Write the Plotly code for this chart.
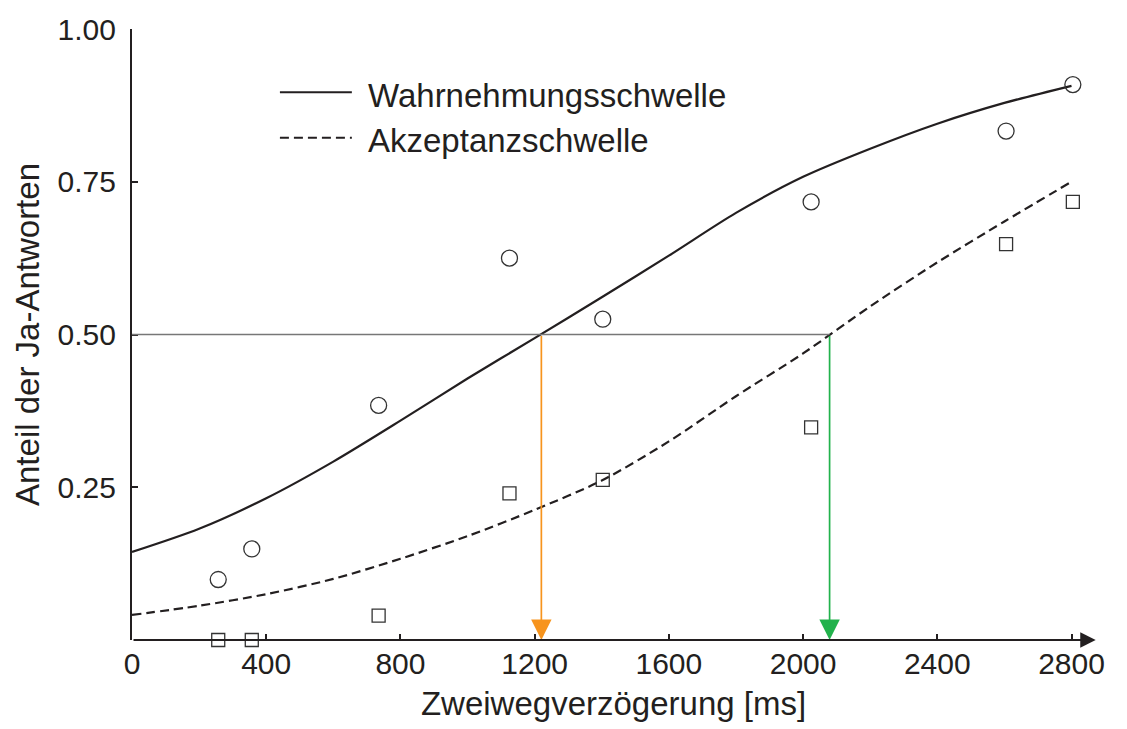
import plotly.graph_objects as go

# Measured points (ms, proportion of "yes" answers)
delay_ms = [257, 357, 735, 1125, 1403, 2024, 2605, 2804]
perception_pts = [0.099, 0.149, 0.384, 0.625, 0.525, 0.717, 0.833, 0.909]
acceptance_pts = [0.0, 0.0, 0.040, 0.240, 0.262, 0.348, 0.648, 0.717]

# Fitted curves
curve_x = [0, 200, 400, 600, 800, 1000, 1200, 1400, 1600, 1800, 2000, 2200, 2400, 2600, 2800]
perception_curve = [0.144, 0.182, 0.232, 0.292, 0.359, 0.428, 0.494, 0.561, 0.629, 0.699,
                    0.758, 0.804, 0.845, 0.879, 0.907]
acceptance_curve = [0.041, 0.056, 0.075, 0.100, 0.133, 0.170, 0.213, 0.261, 0.325, 0.399,
                    0.469, 0.546, 0.618, 0.685, 0.750]

threshold_level = 0.5
perception_threshold = 1220
acceptance_threshold = 2079

x_ticks = [0, 400, 800, 1200, 1600, 2000, 2400, 2800]
y_ticks = [0.25, 0.50, 0.75, 1.00]
y_tick_labels = ["0.25", "0.50", "0.75", "1.00"]

INK = "#231F20"
FONT = "Liberation Sans, Arial, Helvetica, sans-serif"

fig = go.Figure()

fig.add_trace(go.Scatter(x=curve_x, y=perception_curve, mode="lines", line_shape="spline",
                         line=dict(color=INK, width=2.2, smoothing=0.8), name="Wahrnehmungsschwelle",
                         showlegend=False))
fig.add_trace(go.Scatter(x=curve_x, y=acceptance_curve, mode="lines", line_shape="spline",
                         line=dict(color=INK, width=2.2, dash="9px,5px", smoothing=0.8),
                         name="Akzeptanzschwelle", showlegend=False))
fig.add_trace(go.Scatter(x=delay_ms, y=perception_pts, mode="markers", cliponaxis=False,
                         marker=dict(symbol="circle-open", size=16, color="#333333",
                                     line=dict(width=1.3)), showlegend=False))
fig.add_trace(go.Scatter(x=delay_ms, y=acceptance_pts, mode="markers", cliponaxis=False,
                         marker=dict(symbol="square-open", size=13, color="#333333",
                                     line=dict(width=1.3)), showlegend=False))

# horizontal 0.5 line
fig.add_shape(type="line", xref="x", yref="y", x0=0, x1=acceptance_threshold,
              y0=threshold_level, y1=threshold_level, line=dict(color="#777777", width=1.5))

# arrows down to the x axis
for xv, col in [(perception_threshold, "#F7941D"), (acceptance_threshold, "#22B24C")]:
    fig.add_annotation(x=xv, y=0, ax=xv, ay=threshold_level, xref="x", yref="y",
                       axref="x", ayref="y", showarrow=True, arrowhead=2, arrowsize=2.4,
                       arrowwidth=1.7, arrowcolor=col, text="")

# x axis line with arrow
fig.add_annotation(x=2872, y=0, ax=0, ay=0, xref="x", yref="y", axref="x", ayref="y",
                   showarrow=True, arrowhead=2, arrowsize=1.4, arrowwidth=2.2,
                   arrowcolor=INK, text="")

# manual legend
fig.add_shape(type="line", xref="paper", yref="paper", x0=0.1536, x1=0.2283,
              y0=0.8963, y1=0.8963, line=dict(color=INK, width=2))
fig.add_shape(type="line", xref="paper", yref="paper", x0=0.1536, x1=0.2283,
              y0=0.8222, y1=0.8222, line=dict(color=INK, width=2, dash="9px,5px"))
fig.add_annotation(xref="paper", yref="paper", x=0.2429, y=0.8914, xanchor="left",
                   yanchor="middle", text="Wahrnehmungsschwelle", showarrow=False,
                   font=dict(size=33, color=INK, family=FONT))
fig.add_annotation(xref="paper", yref="paper", x=0.2429, y=0.8178, xanchor="left",
                   yanchor="middle", text="Akzeptanzschwelle", showarrow=False,
                   font=dict(size=33, color=INK, family=FONT))

fig.update_layout(
    width=1119, height=721,
    margin=dict(l=124, r=31.5, t=20.6, b=89, autoexpand=False),
    paper_bgcolor="white", plot_bgcolor="white",
    font=dict(family=FONT, color=INK, size=30),
    showlegend=False,
    xaxis=dict(range=[0, 2870], tickvals=x_ticks, ticktext=[str(v) for v in x_ticks],
               ticks="inside", ticklen=6, tickwidth=2, tickcolor=INK, automargin=False,
               ticklabelstandoff=3,
               showline=False, showgrid=False, zeroline=False,
               tickfont=dict(size=30, color=INK, family=FONT),
               title=dict(text="Zweiwegverzögerung [ms]", font=dict(size=33, color=INK, family=FONT),
                          standoff=12)),
    yaxis=dict(range=[0, 1.0], tickvals=y_ticks, ticktext=y_tick_labels,
               ticks="inside", ticklen=6, tickwidth=2, tickcolor=INK, automargin=False,
               ticklabelstandoff=8,
               showline=True, linecolor=INK, linewidth=2.2, mirror=False,
               showgrid=False, zeroline=False,
               tickfont=dict(size=30, color=INK, family=FONT),
               title=dict(text="Anteil der Ja-Antworten", font=dict(size=33, color=INK, family=FONT),
                          standoff=8)),
)

fig.write_html("out.html")
